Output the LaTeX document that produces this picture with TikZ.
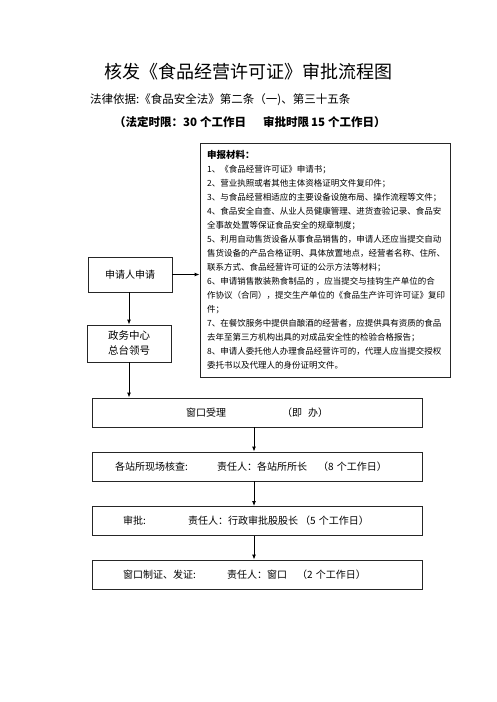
\documentclass[tikz,border=0pt]{standalone}
\usepackage{fontspec}
\setmainfont{Noto Sans CJK SC}
\usetikzlibrary{arrows.meta}
\begin{document}
\begin{tikzpicture}[x=1pt,y=-1pt,
  box/.style={draw=black!85,line width=0.9pt,rectangle,inner sep=0pt},
  txt/.style={inner sep=0pt,anchor=west,text height=.88em,text depth=.12em},
  mat/.style={txt,font=\fontsize{8.5}{10}\selectfont},
  flow/.style={txt,font=\fontsize{10}{12}\selectfont},
  arr/.style={draw=black,line width=0.9pt,-{Latex[length=5pt,width=4pt]}}]
\useasboundingbox (0,0) rectangle (496,702);
% headings
\node[inner sep=0pt,font=\fontsize{18}{20}\selectfont] (title) at (248,72) {核发《食品经营许可证》审批流程图};
\node[txt,font=\fontsize{11.5}{13}\selectfont] (law) at (90,100) {法律依据:《食品安全法》第二条（一)、第三十五条};
\node[txt,font=\fontsize{11.5}{13}\selectfont\bfseries] (limit) at (114,123) {（法定时限：30\hspace{3pt}个工作日\hspace{17pt}审批时限\hspace{2pt}15\hspace{3pt}个工作日）};
% materials box
\node[box,minimum width=250pt,minimum height=234pt] (mbox) at (325,260) {};
\node[mat,font=\fontsize{9.5}{11}\selectfont\bfseries] (m0) at (207,155) {申报材料：};
\node[mat] (m1) at (207,169) {1、《食品经营许可证》申请书；};
\node[mat] (m2) at (207,183) {2、营业执照或者其他主体资格证明文件复印件；};
\node[mat] (m3) at (207,197) {3、与食品经营相适应的主要设备设施布局、操作流程等文件；};
\node[mat] (m4) at (207,211) {4、食品安全自查、从业人员健康管理、进货查验记录、食品安};
\node[mat] (m5) at (207,225) {全事故处置等保证食品安全的规章制度；};
\node[mat] (m6) at (207,239) {5、利用自动售货设备从事食品销售的，申请人还应当提交自动};
\node[mat] (m7) at (207,253) {售货设备的产品合格证明、具体放置地点，经营者名称、住所、};
\node[mat] (m8) at (207,267) {联系方式、食品经营许可证的公示方法等材料；};
\node[mat] (m9) at (207,281) {6、申请销售散装熟食制品的 ，应当提交与挂钩生产单位的合};
\node[mat] (m10) at (207,295) {作协议（合同），提交生产单位的《食品生产许可许可证》复印};
\node[mat] (m11) at (207,309) {件；};
\node[mat] (m12) at (207,323) {7、在餐饮服务中提供自酿酒的经营者，应提供具有资质的食品};
\node[mat] (m13) at (207,337) {去年至第三方机构出具的对成品安全性的检验合格报告；};
\node[mat] (m14) at (207,351) {8、申请人委托他人办理食品经营许可的，代理人应当提交授权};
\node[mat] (m15) at (207,365) {委托书以及代理人的身份证明文件。};
% left boxes
\node[box,minimum width=84pt,minimum height=35pt,font=\fontsize{10}{12}\selectfont] (app) at (130,274.5) {申请人申请};
\node[box,minimum width=84pt,minimum height=37pt,align=center,font=\fontsize{10.5}{15}\selectfont] (gov) at (129,343.5) {政务中心\\总台领号};
% flow boxes
\node[box,minimum width=330pt,minimum height=29pt] (b1) at (257,412.5) {};
\node[box,minimum width=330pt,minimum height=29pt] (b2) at (257,466.5) {};
\node[box,minimum width=330pt,minimum height=29pt] (b3) at (257,521) {};
\node[box,minimum width=330pt,minimum height=29pt] (b4) at (257,574.5) {};
\node[flow] (t1a) at (186,413) {窗口受理};
\node[flow] (t1b) at (282,413) {（即\hspace{6pt}办）};
\node[flow] (t2a) at (115,467) {各站所现场核查:};
\node[flow] (t2b) at (217,467) {责任人：各站所所长};
\node[flow] (t2c) at (318,467) {（8\hspace{3pt}个工作日）};
\node[flow] (t3a) at (123,521) {审批:};
\node[flow] (t3b) at (188,521) {责任人：行政审批股股长};
\node[flow] (t3c) at (300,521) {（5\hspace{3pt}个工作日）};
\node[flow] (t4a) at (123,575) {窗口制证、发证:};
\node[flow] (t4b) at (227,575) {责任人：窗口};
\node[flow] (t4c) at (297,575) {（2\hspace{3pt}个工作日）};
% connectors
\draw[arr] (app.east) -- (app.east -| mbox.west);
\draw[arr] ([xshift=-1pt]app.south) -- ([xshift=0pt]gov.north);
\draw[arr] (gov.south) -- (gov.south |- b1.north);
\draw[arr] ([xshift=-3pt]b1.south) -- ([xshift=-3pt]b2.north);
\draw[arr] ([xshift=-3pt]b2.south) -- ([xshift=-3pt]b3.north);
\draw[arr] ([xshift=-3pt]b3.south) -- ([xshift=-3pt]b4.north);
\end{tikzpicture}
\end{document}
